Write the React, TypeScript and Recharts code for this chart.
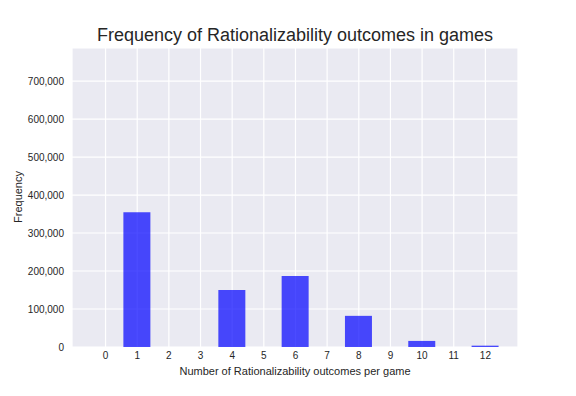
import { BarChart, Bar, XAxis, YAxis, CartesianGrid } from 'recharts'

const outcomes = [0, 1, 2, 3, 4, 5, 6, 7, 8, 9, 10, 11, 12]
const frequencies = [0, 355000, 0, 0, 150000, 0, 187000, 0, 82000, 0, 16000, 0, 3500]
const yTicks = [0, 100000, 200000, 300000, 400000, 500000, 600000, 700000]

const data = outcomes.map((n, i) => ({ n, freq: frequencies[i] }))

const FONT = '"Liberation Sans", Arial, sans-serif'
const INK = '#262626'

export default function App() {
  return (
    <div style={{ position: 'absolute', left: 0, top: 0, width: 576, height: 396, background: '#fff', fontFamily: FONT }}>
      <div
        style={{
          position: 'absolute',
          left: 72,
          width: 446,
          top: 23,
          textAlign: 'center',
          fontSize: 18,
          color: INK,
          lineHeight: '24px',
        }}
      >
        Frequency of Rationalizability outcomes in games
      </div>
      <div
        style={{
          position: 'absolute',
          left: 72,
          width: 446,
          top: 364,
          textAlign: 'center',
          fontSize: 11,
          color: INK,
          lineHeight: '14px',
        }}
      >
        Number of Rationalizability outcomes per game
      </div>
      <div
        style={{
          position: 'absolute',
          left: 18,
          top: 197,
          transform: 'translate(-50%, -50%) rotate(-90deg)',
          fontSize: 11,
          color: INK,
          lineHeight: '14px',
          whiteSpace: 'nowrap',
        }}
      >
        Frequency
      </div>
      <BarChart
        width={576}
        height={396}
        data={data}
        margin={{ top: 48, right: 58, left: 10, bottom: 19 }}
        style={{ position: 'absolute', left: 0, top: 0 }}
      >
        <CartesianGrid fill="#EAEAF2" stroke="#ffffff" strokeWidth={1.2} />
        <XAxis
          dataKey="n"
          type="number"
          domain={[-1.06, 13.03]}
          ticks={outcomes}
          height={30}
          axisLine={false}
          tickLine={false}
          tickSize={3}
          tick={{ fill: INK, fontSize: 10, fontFamily: FONT }}
        />
        <YAxis
          domain={[0, 787000]}
          ticks={yTicks}
          width={62}
          axisLine={false}
          tickLine={false}
          tickSize={6}
          tick={{ fill: INK, fontSize: 10, fontFamily: FONT }}
          tickFormatter={(v: number) => v.toLocaleString('en-US')}
        />
        <Bar dataKey="freq" fill="#0000ff" fillOpacity={0.7} barSize={27} isAnimationActive={false} />
      </BarChart>
    </div>
  )
}
